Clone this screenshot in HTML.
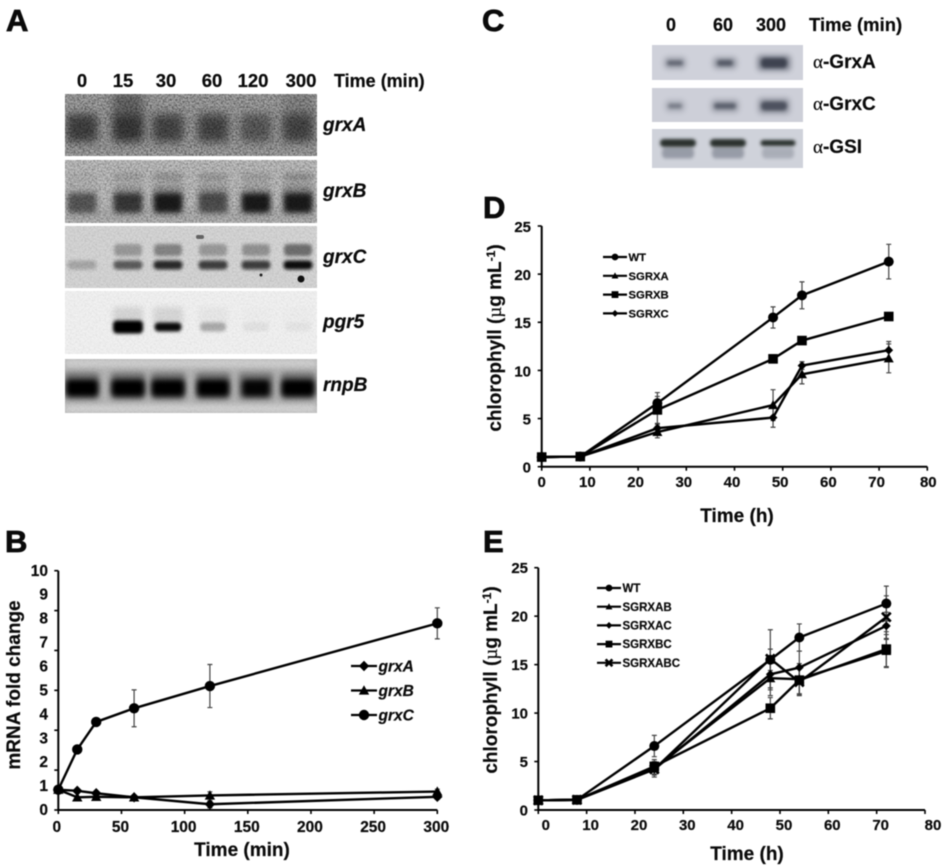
<!DOCTYPE html>
<html>
<head>
<meta charset="utf-8">
<title>Grx expression and growth figure</title>
<style>
html,body{margin:0;padding:0;background:#fff;width:945px;height:868px;overflow:hidden}
svg text{font-family:"Liberation Sans",sans-serif;font-weight:bold;fill:#0a0a0a;stroke:#0a0a0a;stroke-width:0.2}
#figure{display:block;filter:blur(0.45px)}
.it{font-style:italic}
.gr{font-family:"Liberation Serif",serif;font-weight:normal}
</style>
</head>
<body>
<svg id="figure" xmlns="http://www.w3.org/2000/svg" width="945" height="868" viewBox="0 0 945 868">
<defs>
<filter id="b1" x="-50%" y="-100%" width="200%" height="300%"><feGaussianBlur stdDeviation="1.5"/></filter>
<filter id="b2" x="-50%" y="-100%" width="200%" height="300%"><feGaussianBlur stdDeviation="2.6"/></filter>
<filter id="b4" x="-50%" y="-100%" width="200%" height="300%"><feGaussianBlur stdDeviation="4.5"/></filter>
<filter id="grain" x="0" y="0" width="100%" height="100%"><feTurbulence type="fractalNoise" baseFrequency="0.55" numOctaves="2" seed="7"/><feColorMatrix type="matrix" values="0 0 0 0 0  0 0 0 0 0  0 0 0 0 0  2.2 0 0 0 -0.8"/></filter>
</defs>

<text x="6" y="31" font-size="31" style="stroke-width:0.8">A</text>
<text x="5" y="552" font-size="31" style="stroke-width:0.8">B</text>
<text x="482" y="31" font-size="31" style="stroke-width:0.8">C</text>
<text x="483" y="218" font-size="31" style="stroke-width:0.8">D</text>
<text x="483" y="552" font-size="31" style="stroke-width:0.8">E</text>

<g id="blot-a"></g>
<g id="blot-c"></g>

<text x="334" y="87" font-size="18">Time (min)</text>
<text class="it" x="323" y="131" font-size="19">grxA</text>
<text class="it" x="323" y="197" font-size="19">grxB</text>
<text class="it" x="323" y="263" font-size="19">grxC</text>
<text class="it" x="323" y="328" font-size="19">pgr5</text>
<text class="it" x="323" y="391" font-size="19">rnpB</text>

<text x="809" y="31" font-size="18.5">Time (min)</text>
<text x="813" y="68" font-size="19"><tspan class="gr">α</tspan>-GrxA</text>
<text x="813" y="110" font-size="19"><tspan class="gr">α</tspan>-GrxC</text>
<text x="813" y="153" font-size="19"><tspan class="gr">α</tspan>-GSI</text>

<g id="chart-b"></g>
<g id="chart-d"></g>
<g id="chart-e"></g>

<text x="242" y="856" font-size="19" text-anchor="middle">Time (min)</text>
<text transform="translate(20,685) rotate(-90)" font-size="19" text-anchor="middle">mRNA fold change</text>
<text x="737" y="522" font-size="19" text-anchor="middle">Time (h)</text>
<text transform="translate(501,338) rotate(-90)" font-size="19" text-anchor="middle">chlorophyll (<tspan class="gr">µ</tspan>g mL<tspan font-size="12" dy="-6">-1</tspan><tspan dy="6">)</tspan></text>
<text x="747" y="860" font-size="19" text-anchor="middle">Time (h)</text>
<text transform="translate(497,680) rotate(-90)" font-size="19" text-anchor="middle">chlorophyll (<tspan class="gr">µ</tspan>g mL<tspan font-size="12" dy="-6">-1</tspan><tspan dy="6">)</tspan></text>
</svg>

<script>
/* ---------- Panel B data ---------- */
const bTimes = [0, 15, 30, 60, 120, 300];
const bGrxA = [0.85, 0.8, 0.7, 0.53, 0.24, 0.55];
const bGrxB = [0.85, 0.53, 0.55, 0.53, 0.61, 0.77];
const bGrxC = [0.85, 2.53, 3.68, 4.25, 5.18, 7.8];
const bGrxAErr = [0, 0, 0, 0, 0.15, 0.1];
const bGrxBErr = [0, 0, 0, 0, 0.15, 0.1];
const bGrxCErr = [0, 0, 0, 0.77, 0.9, 0.65];
const bXTicks = [0, 50, 100, 150, 200, 250, 300];
const bYLabels = [0, 1, 2, 3, 4, 5, 6, 7, 8, 9, 10];
const bYTicks = [0, 1.667, 3.333, 5, 6.667, 8.333, 10];

/* ---------- Panel D data ---------- */
const dTimes = [0, 8, 24, 48, 54, 72];
const dWT = [1, 1.05, 6.6, 15.5, 17.8, 21.3];
const dWTErr = [0, 0, 1.1, 1.1, 1.4, 1.8];
const dA = [1, 1.05, 3.6, 6.4, 9.6, 11.25];
const dAErr = [0, 0, 0.6, 1.6, 1, 1.5];
const dC = [1, 1.05, 4, 5.1, 10.5, 12.1];
const dCErr = [0, 0, 0.4, 1, 0.4, 0.9];
const dB = [1, 1.05, 5.9, 11.2, 13.1, 15.6];
const dBErr = [0, 0, 1.4, 0.4, 0.2, 0.2];

/* ---------- Panel E data ---------- */
const eTimes = [0, 8, 24, 48, 54, 72];
const eWT = [1, 1.05, 6.6, 15.5, 17.8, 21.3];
const eWTErr = [0, 0, 1.1, 1.1, 1.4, 1.8];
const eAB = [1, 1.05, 4.3, 13.6, 13.5, 16.4];
const eABErr = [0, 0, 0.9, 1.8, 1.6, 1.7];
const eAC = [1, 1.05, 4.2, 14, 14.7, 19];
const eACErr = [0, 0, 0.6, 1.6, 1.7, 1.4];
const eBC = [1, 1.05, 4.5, 10.5, 13.4, 16.6];
const eBCErr = [0, 0, 0.5, 1.1, 1.4, 1.8];
const eABC = [1, 1.05, 4.2, 15.6, 13.2, 19.9];
const eABCErr = [0, 0, 0.5, 3, 1.4, 2.2];
const growthXTicks = [0, 10, 20, 30, 40, 50, 60, 70, 80];
const growthYTicks = [0, 5, 10, 15, 20, 25];

/* ---------- Blot band intensities (0-1) per lane ---------- */
const blotALanes = ['0', '15', '30', '60', '120', '300'];
const grxABand = [0.9, 1, 0.85, 0.85, 0.65, 0.85];
const grxAUpper = [0, 0.6, 0, 0, 0, 0.25];
const grxBBand = [0.6, 0.8, 1, 0.65, 1, 1];
const grxBUpper = [0.1, 0.25, 0.35, 0.3, 0.25, 0.4];
const grxCBand = [0.22, 0.6, 0.85, 0.75, 0.75, 1];
const grxCUpper = [0, 0.4, 0.55, 0.4, 0.45, 0.7];
const pgr5Band = [0, 1, 0.95, 0.28, 0.05, 0.04];
const rnpBBand = [1, 1, 1, 1, 0.95, 1];
const blotCLanes = ['0', '60', '300'];
const cGrxABand = [0.6, 0.7, 0.95];
const cGrxCBand = [0.45, 0.65, 0.8];
const cGsiBand = [1, 1, 1];
const cGsiLower = [0.45, 0.45, 0.3];

const SVGNS = 'http://www.w3.org/2000/svg';
function mk(tag, parent, attrs) {
  const n = document.createElementNS(SVGNS, tag);
  for (const k in attrs) n.setAttribute(k, attrs[k]);
  parent.appendChild(n);
  return n;
}

/* ---------- Blots ---------- */
function addStrip(parent, x, y, w, h, bg, grain) {
  const s = mk('svg', parent, {x: x, y: y, width: w, height: h});
  
  
  mk('rect', s, {x: 0, y: 0, width: w, height: h, fill: bg});
  s._grain = grain; s._w = w; s._h = h;
  return s;
}
function addGrain(s) {
  if (s._grain > 0) mk('rect', s, {x: 0, y: 0, width: s._w, height: s._h, fill: '#000', opacity: s._grain, filter: 'url(#grain)'});
}
function addBands(s, values, laneX, cy, w, h, color, blur) {
  values.forEach(function (v, i) {
    if (v <= 0) return;
    const bw = Array.isArray(w) ? w[i] : w;
    const bh = Array.isArray(h) ? h[i] : h;
    const b = mk('rect', s, {x: laneX(i) - bw / 2, y: cy - bh / 2, width: bw, height: bh, rx: Math.min(bh / 2, 4), fill: color, opacity: v, filter: 'url(#' + blur + ')'});
    
    
  });
}
(function drawBlots() {
  const a = document.getElementById('blot-a');
  const laneA = function (i) { return [17, 63, 103, 148, 191, 233][i]; };
  const labelA = [82, 123, 166, 212, 253, 301];
  blotALanes.forEach(function (t, i) {
    const l = mk('text', a, {x: labelA[i], y: 87, 'font-size': 18.5, 'text-anchor': 'middle'});
    
    
    l.textContent = t;
  });
  let s = addStrip(a, 65, 94, 252, 62, '#a6a6a6', 0.5);
  addBands(s, grxAUpper, laneA, 12, 30, 28, '#4a4a4a', 'b4');
  addBands(s, grxABand, laneA, 34, 31, 28, '#3c3c3c', 'b4');
  addGrain(s);
  s = addStrip(a, 65, 160, 252, 63, '#c2c2c2', 0.34);
  mk('rect', s, {x: 0, y: 48, width: 252, height: 15, fill: '#999', opacity: 0.35, filter: 'url(#b4)'});
  addBands(s, grxBUpper, laneA, 17, 30, 8, '#555', 'b2');
  addBands(s, grxBUpper, laneA, 32, 30, 16, '#555', 'b2');
  addBands(s, grxBBand, laneA, 43, 29, 20, '#1e1e1e', 'b2');
  addGrain(s);
  s = addStrip(a, 65, 226, 252, 62, '#d6d6d6', 0.1);
  addBands(s, grxCUpper, laneA, 24, 28, 12, '#444', 'b1');
  addBands(s, grxCBand, laneA, 39, 29, 9, '#0c0c0c', 'b1');
  mk('circle', s, {cx: 236, cy: 53, r: 3.5, fill: '#111'});
  mk('circle', s, {cx: 196, cy: 49, r: 1.5, fill: '#222'});
  mk('rect', s, {x: 131, y: 9, width: 8, height: 4, rx: 2, fill: '#666'});
  addGrain(s);
  s = addStrip(a, 65, 291, 252, 63, '#f1f1f1', 0.06);
  addBands(s, pgr5Band.map(function (v) { return v * 0.15; }), laneA, 25, 30, 18, '#444', 'b2');
  addBands(s, pgr5Band, laneA, 36, [29, 30, 27, 26, 26, 26], [13, 13, 9, 9, 9, 9], '#000', 'b1');
  addGrain(s);
  s = addStrip(a, 65, 359, 252, 54, '#b4b4b4', 0.05);
  mk('rect', s, {x: 0, y: 0, width: 252, height: 8, fill: '#ddd', opacity: 0.7, filter: 'url(#b2)'});
  mk('rect', s, {x: 0, y: 46, width: 252, height: 8, fill: '#ddd', opacity: 0.8, filter: 'url(#b2)'});
  addBands(s, rnpBBand.map(function (v) { return v * 0.45; }), laneA, 27, 35, 27, '#222', 'b2');
  addBands(s, rnpBBand, laneA, 29, [32, 33, 33, 32, 28, 33], 17, '#000', 'b2');
  addGrain(s);

  const c = document.getElementById('blot-c');
  const laneC = function (i) { return [23, 73, 122][i]; };
  const gsiLane = function (i) { return [26, 76, 126][i]; };
  const labelC = [671, 723, 771];
  blotCLanes.forEach(function (t, i) {
    const l = mk('text', c, {x: labelC[i], y: 31, 'font-size': 18, 'text-anchor': 'middle'});
    
    
    l.textContent = t;
  });
  s = addStrip(c, 652, 45, 151, 35, '#cfd1da', 0);
  addBands(s, cGrxABand.map(function (v) { return v * 0.5; }), laneC, 18, [22, 24, 34], [12, 12, 16], '#3a3f4e', 'b2');
  addBands(s, cGrxABand, laneC, 18, [16, 16, 26], [5, 6, 10], '#3a3f4e', 'b1');
  s = addStrip(c, 652, 88, 151, 34, '#cdcfd8', 0);
  addBands(s, cGrxCBand.map(function (v) { return v * 0.45; }), laneC, 18, [20, 28, 32], [12, 13, 16], '#3a3f4e', 'b2');
  addBands(s, cGrxCBand, laneC, 18, [14, 22, 26], [5, 6, 9], '#3a3f4e', 'b1');
  s = addStrip(c, 652, 129, 151, 39, '#cfd2da', 0);
  addBands(s, cGsiLower, gsiLane, 24, 32, 11, '#555b6b', 'b1');
  addBands(s, cGsiBand, gsiLane, 14, [36, 36, 35], [8, 8, 6], '#2c322f', 'b1');
})();

/* ---------- Line charts ---------- */
function marker(parent, shape, x, y, size, name) {
  let m;
  if (shape === 'circle') {
    m = mk('circle', parent, {cx: x, cy: y, r: size, fill: '#000'});
  } else if (shape === 'square') {
    m = mk('rect', parent, {x: x - size, y: y - size, width: 2 * size, height: 2 * size, fill: '#000'});
  } else if (shape === 'diamond') {
    m = mk('polygon', parent, {points: [x, y - size, x + size, y, x, y + size, x - size, y].join(','), fill: '#000'});
  } else if (shape === 'triangle') {
    m = mk('polygon', parent, {points: [x, y - size, x + size, y + size * 0.8, x - size, y + size * 0.8].join(','), fill: '#000'});
  } else {
    m = mk('path', parent, {d: 'M' + (x - size) + ' ' + (y - size) + 'L' + (x + size) + ' ' + (y + size) + 'M' + (x + size) + ' ' + (y - size) + 'L' + (x - size) + ' ' + (y + size), stroke: '#000', 'stroke-width': 2.6, fill: 'none'});
  }
  
  
  return m;
}
function drawChart(cfg) {
  const root = document.getElementById(cfg.id);
  const sx = function (v) { return cfg.x0 + (v - cfg.xMin) / (cfg.xMax - cfg.xMin) * (cfg.x1 - cfg.x0); };
  const sy = function (v) { return cfg.y0 - v / cfg.yMax * (cfg.y0 - cfg.y1); };

  const xAxis = mk('line', root, {x1: sx(cfg.xMin), x2: sx(cfg.xMax), y1: cfg.y0, y2: cfg.y0, stroke: '#000', 'stroke-width': 2});
  
  
  const yAxis = mk('line', root, {x1: sx(cfg.xMin), x2: sx(cfg.xMin), y1: cfg.y0 + 1, y2: cfg.y1, stroke: '#000', 'stroke-width': 2});
  
  

  cfg.xTicks.forEach(function (t, i) {
    const tick = mk('line', root, {x1: sx(t), x2: sx(t), y1: cfg.y0, y2: cfg.y0 + 4, stroke: '#000', 'stroke-width': 1.6});
    
    
    const lab = mk('text', root, {x: sx(t) + cfg.xLabelShift(i), y: cfg.xLabelY, 'font-size': cfg.tickFont, 'text-anchor': 'middle'});
    
    
    lab.textContent = t;
  });
  cfg.yTicks.forEach(function (t) {
    const tick = mk('line', root, {x1: sx(cfg.xMin) - 4, x2: sx(cfg.xMin), y1: sy(t), y2: sy(t), stroke: '#000', 'stroke-width': 1.6});
    
    
  });
  cfg.yLabels.forEach(function (t) {
    const lab = mk('text', root, {x: cfg.yLabelX, y: sy(t) + cfg.tickFont * 0.36 + cfg.yLabelShift, 'font-size': cfg.tickFont, 'text-anchor': 'end'});
    
    
    lab.textContent = t;
  });

  cfg.series.forEach(function (s) {
    s.err.forEach(function (e, i) {
      if (!e) return;
      const px = sx(cfg.times[i]);
      const bar = mk('path', root, {d: 'M' + px + ' ' + sy(s.values[i] - e) + 'V' + sy(s.values[i] + e) + 'M' + (px - 2.5) + ' ' + sy(s.values[i] - e) + 'h5M' + (px - 2.5) + ' ' + sy(s.values[i] + e) + 'h5', stroke: '#444', 'stroke-width': 1.2, fill: 'none'});
      
      
    });
  });
  cfg.series.forEach(function (s) {
    const pts = s.values.map(function (v, i) { return sx(cfg.times[i]) + ',' + sy(v); }).join(' ');
    const line = mk('polyline', root, {points: pts, fill: 'none', stroke: '#000', 'stroke-width': cfg.lineWidth, 'stroke-linejoin': 'round'});
    
    
    s.values.forEach(function (v, i) {
      marker(root, s.shape, sx(cfg.times[i]), sy(v), s.size, 'data-point');
    });
  });
  cfg.legend.forEach(function (s, i) {
    const ly = cfg.legendY + i * cfg.legendGap;
    const ln = mk('line', root, {x1: cfg.legendX, x2: cfg.legendX + cfg.legendLen, y1: ly, y2: ly, stroke: '#000', 'stroke-width': 2.2});
    
    
    marker(root, s.shape, cfg.legendX + cfg.legendLen / 2, ly, s.legendSize, 'legend-marker');
    const tx = mk('text', root, {x: cfg.legendX + cfg.legendLen + 1.5, y: ly + cfg.legendFont * 0.36, 'font-size': cfg.legendFont});
    
    
    if (cfg.legendItalic) tx.setAttribute('class', 'it');
    tx.textContent = s.name;
  });
}

const seriesB = [
  {name: 'grxA', values: bGrxA, err: bGrxAErr, shape: 'diamond', size: 5.2, legendSize: 5.2},
  {name: 'grxB', values: bGrxB, err: bGrxBErr, shape: 'triangle', size: 5.2, legendSize: 5.2},
  {name: 'grxC', values: bGrxC, err: bGrxCErr, shape: 'circle', size: 5.2, legendSize: 5.2}
];
drawChart({
  id: 'chart-b', times: bTimes, series: seriesB, legend: seriesB,
  x0: 58.3, x1: 437.3, xMin: 0, xMax: 300, y0: 810, y1: 570.7, yMax: 10,
  xTicks: bXTicks, yTicks: bYTicks, yLabels: bYLabels,
  xLabelY: 832, yLabelX: 48, tickFont: 15.5, yLabelShift: -0.5, lineWidth: 2.4,
  xLabelShift: function (i) { return i === 0 ? -1.5 : -1; },
  legendX: 351, legendLen: 26, legendY: 666, legendGap: 24.5, legendFont: 15.5, legendItalic: true
});

const seriesD = [
  {name: 'WT', values: dWT, err: dWTErr, shape: 'circle', size: 5, legendSize: 3.4},
  {name: 'SGRXA', values: dA, err: dAErr, shape: 'triangle', size: 5, legendSize: 3.4},
  {name: 'SGRXC', values: dC, err: dCErr, shape: 'diamond', size: 4.4, legendSize: 3.4},
  {name: 'SGRXB', values: dB, err: dBErr, shape: 'square', size: 4.8, legendSize: 3.4}
];
drawChart({
  id: 'chart-d', times: dTimes, series: seriesD,
  legend: [seriesD[0], seriesD[1], seriesD[3], seriesD[2]],
  x0: 541.7, x1: 927.3, xMin: 0, xMax: 80, y0: 466.7, y1: 226, yMax: 25,
  xTicks: growthXTicks, yTicks: growthYTicks, yLabels: growthYTicks,
  xLabelY: 487, yLabelX: 531, tickFont: 15, yLabelShift: 0.5, lineWidth: 2.4,
  xLabelShift: function (i) { return i === 0 ? 0 : (i === 8 ? 1 : -2.5); },
  legendX: 603, legendLen: 24, legendY: 257, legendGap: 18.8, legendFont: 11.3, legendItalic: false
});

const seriesE = [
  {name: 'WT', values: eWT, err: eWTErr, shape: 'circle', size: 5, legendSize: 3.4},
  {name: 'SGRXAB', values: eAB, err: eABErr, shape: 'triangle', size: 5, legendSize: 3.4},
  {name: 'SGRXAC', values: eAC, err: eACErr, shape: 'diamond', size: 4.4, legendSize: 3.4},
  {name: 'SGRXBC', values: eBC, err: eBCErr, shape: 'square', size: 4.8, legendSize: 3.4},
  {name: 'SGRXABC', values: eABC, err: eABCErr, shape: 'x', size: 4.4, legendSize: 3.4}
];
drawChart({
  id: 'chart-e', times: eTimes, series: seriesE, legend: seriesE,
  x0: 538.3, x1: 925, xMin: 0, xMax: 80, y0: 810, y1: 567.7, yMax: 25,
  xTicks: growthXTicks, yTicks: growthYTicks, yLabels: growthYTicks,
  xLabelY: 830, yLabelX: 528, tickFont: 15, yLabelShift: 0, lineWidth: 2.4,
  xLabelShift: function (i) { return i === 0 ? 7.5 : (i === 8 ? 8 : 4); },
  legendX: 597, legendLen: 24, legendY: 588, legendGap: 18.7, legendFont: 11.5, legendItalic: false
});
</script>
</body>
</html>
